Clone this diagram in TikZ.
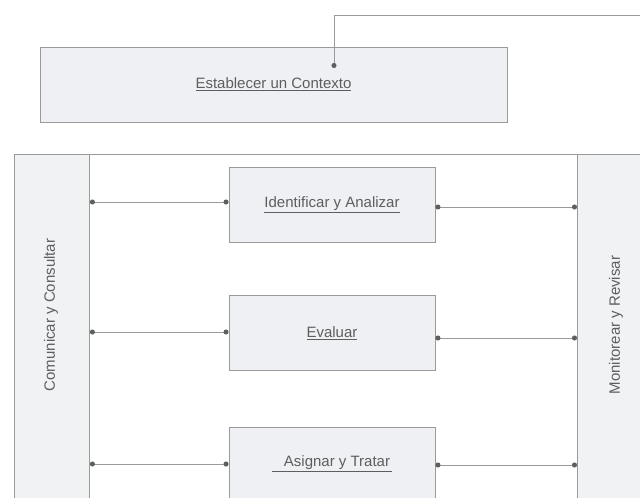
\documentclass[tikz,border=0pt]{standalone}
\usepackage{fontspec}
\setmainfont{Liberation Sans}
\usetikzlibrary{arrows.meta}
\definecolor{boxfill}{HTML}{EEF0F3}
\definecolor{colfill}{HTML}{F1F2F4}
\definecolor{edge}{HTML}{9A9A9A}
\definecolor{ink}{HTML}{5E5E5E}
\tikzset{
	lbl/.style={text=ink, font=\fontsize{15}{17}\selectfont},
	stagebox/.style={lbl, draw=edge, fill=boxfill, line width=0.9pt, minimum width=206pt, minimum height=75pt},
	sidecol/.style={draw=edge, fill=colfill, line width=0.9pt},
	link/.style={draw=edge, line width=0.9pt, {Circle[length=5pt,color=ink]}-{Circle[length=5pt,color=ink]}}
}
\newcommand{\ul}[1]{\underline{#1}}

\begin{document}
\begin{tikzpicture}[x=1pt, y=-1pt]
\useasboundingbox (0,0) rectangle (640,498);
\clip (0,0) rectangle (640,498);
% Context
	\node[stagebox, minimum width=467pt] (ctx) at (273.5,84.5) {\ul{Establecer un Contexto}};
	\coordinate (feed) at (660,15);
	\coordinate (ctxin) at (334,68);
	\draw[draw=edge, line width=0.9pt, -{Circle[length=5pt,color=ink]}] (feed) -| (ctxin);
% Frame and side columns
	\draw[draw=edge, line width=0.9pt] (14,154) -- (660,154);
	\node[sidecol, minimum width=75pt, minimum height=370pt, anchor=north west] (com) at (14,154) {};
	\node[sidecol, minimum width=80pt, minimum height=370pt, anchor=north west] (mon) at (577,154) {};
	\node[lbl, rotate=90] (comtxt) at (51,315) {Comunicar y Consultar};
	\node[lbl, rotate=90] (montxt) at (616,325) {Monitorear y Revisar};
% Stages
	\node[stagebox] (ida) at (332,204.5) {\ul{Identificar y Analizar}};
	\node[stagebox] (eva) at (332,333) {\ul{Evaluar}};
	\node[stagebox, anchor=north] (asi) at (332,427) {\vphantom{A}};
	\node[lbl] (asitxt) at (332,464) {\ul{\hspace{12pt}Asignar y Tratar\hspace{2pt}}};
% Links
	\draw[link] ([yshift=2.5pt]com.east |- ida.west) -- ([yshift=2.5pt]ida.west);
	\draw[link] ([yshift=-2.5pt]ida.east) -- ([yshift=-2.5pt]mon.west |- ida.east);
	\draw[link] ([yshift=1pt]com.east |- eva.west) -- ([yshift=1pt]eva.west);
	\draw[link] ([yshift=-5pt]eva.east) -- ([yshift=-5pt]mon.west |- eva.east);
	\draw[link] (com.east |- asitxt.west) -- (asi.west |- asitxt.west);
	\draw[link] ([yshift=-1pt]asi.east |- asitxt.east) -- ([yshift=-1pt]mon.west |- asitxt.east);
\end{tikzpicture}
\end{document}
